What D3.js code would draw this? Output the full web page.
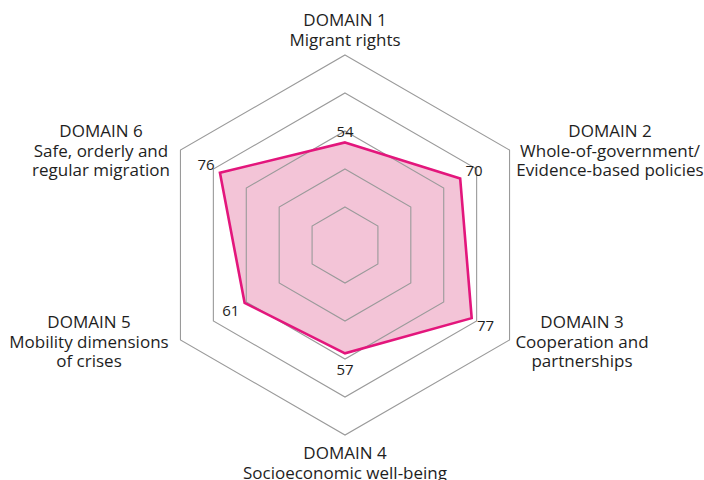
<!DOCTYPE html>
<html>
<head>
<meta charset="utf-8">
<script src="https://cdn.jsdelivr.net/npm/d3@7/dist/d3.min.js"></script>
<style>
  html, body { margin: 0; padding: 0; background: #fff; }
  svg text { font-family: "Open Sans", "Noto Sans", sans-serif; fill: #1e1e1e; }
</style>
</head>
<body>
<svg id="chart" width="704" height="480"></svg>
<script>
// Domain scores, clockwise from the top
const domains = ["DOMAIN 1", "DOMAIN 2", "DOMAIN 3", "DOMAIN 4", "DOMAIN 5", "DOMAIN 6"];
const domainNames = [
  ["Migrant rights"],
  ["Whole-of-government/", "Evidence-based policies"],
  ["Cooperation and", "partnerships"],
  ["Socioeconomic well-being"],
  ["Mobility dimensions", "of crises"],
  ["Safe, orderly and", "regular migration"]
];
const scores = [54, 70, 77, 57, 61, 76];
const gridLevels = [20, 40, 60, 80, 100];

const svg = d3.select("#chart");
const cx = 345, cy = 245, R = 190;
const n = domains.length;

const r = d3.scaleLinear().domain([0, 100]).range([0, R]);
const angle = d3.scaleLinear().domain([0, n]).range([0, 2 * Math.PI]);

const radial = d3.lineRadial()
  .angle((d, i) => angle(i))
  .radius(d => r(d))
  .curve(d3.curveLinearClosed);

const g = svg.append("g").attr("transform", `translate(${cx},${cy})`);

// score area fill (under the grid)
g.append("path")
  .attr("d", radial(scores))
  .attr("fill", "#f3c4d7");

// hexagonal grid rings
g.selectAll("path.ring")
  .data(gridLevels)
  .join("path")
  .attr("class", "ring")
  .attr("d", lv => radial(d3.range(n).map(() => lv)))
  .attr("fill", "none")
  .attr("stroke", "#9a9a9a")
  .attr("stroke-width", 1.1);

// score outline
g.append("path")
  .attr("d", radial(scores))
  .attr("fill", "none")
  .attr("stroke", "#e3167c")
  .attr("stroke-width", 2.6)
  .attr("stroke-linejoin", "miter");

// value labels, set just outside each vertex
const pt = (i, v) => {
  const a = angle(i);
  return [Math.sin(a) * r(v), -Math.cos(a) * r(v)];
};
g.selectAll("text.val")
  .data(scores)
  .join("text")
  .attr("class", "val")
  .each(function (d, i) {
    const a = angle(i);
    const off = (i === 0) ? 11 : 16;
    const [x, y] = pt(i, d);
    d3.select(this)
      .attr("x", x + Math.sin(a) * off)
      .attr("y", y - Math.cos(a) * off)
      .attr("dy", "0.35em");
  })
  .attr("text-anchor", "middle")
  .attr("font-size", 15)
  .attr("font-weight", 400)
  .text(d => d);

// domain labels
const labelPos = [
  { x: 345, y: 26 },
  { x: 610, y: 137 },
  { x: 582, y: 328 },
  { x: 345, y: 459 },
  { x: 89, y: 328 },
  { x: 101, y: 137 }
];
const lineH = 19.5;
domains.forEach((dom, i) => {
  const t = svg.append("text")
    .attr("text-anchor", "middle")
    .attr("font-size", 17)
    .attr("font-weight", 400)
    .attr("x", labelPos[i].x)
    .attr("y", labelPos[i].y);
  [dom].concat(domainNames[i]).forEach((line, k) => {
    t.append("tspan")
      .attr("x", labelPos[i].x)
      .attr("dy", k === 0 ? 0 : lineH)
      .text(line);
  });
});
</script>
</body>
</html>
